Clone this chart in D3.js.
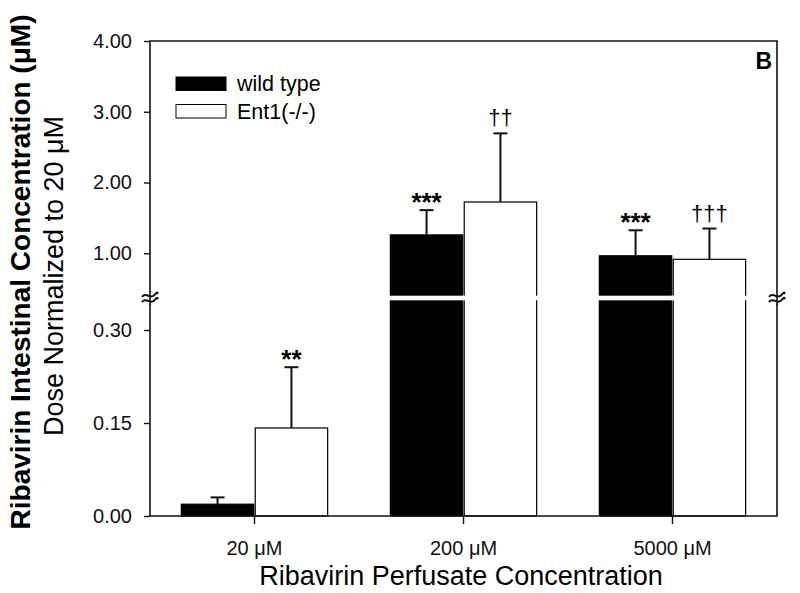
<!DOCTYPE html>
<html>
<head>
<meta charset="utf-8">
<script src="https://cdn.jsdelivr.net/npm/d3@7"></script>
<style>
  html, body { margin: 0; padding: 0; background: #fff; }
  svg { display: block; font-family: Arial, "Liberation Sans", sans-serif; }
</style>
</head>
<body>
<svg id="chart" width="800" height="593"></svg>
<script>
// ---- data ----
const categories = ["20 \u03BCM", "200 \u03BCM", "5000 \u03BCM"];
const seriesNames = ["wild type", "Ent1(-/-)"];
const wildType = [0.019, 1.26, 0.965];
const wildTypeErr = [0.011, 0.35, 0.36];
const ent1 = [0.142, 1.725, 0.915];
const ent1Err = [0.098, 0.97, 0.435];
const wildTypeSig = ["", "***", "***"];
const ent1Sig = ["**", "\u2020\u2020", "\u2020\u2020\u2020"];
const lowerTicks = [0, 0.15, 0.30];
const upperTicks = [1, 2, 3, 4];
const seriesFill = ["#000000", "#ffffff"];

// ---- layout ----
const svg = d3.select("#chart");
const pL = 150, pR = 777, pT = 41, pB = 516, breakY = 298;

const x0 = d3.scaleBand().domain(categories).range([pL, pR]).paddingInner(0.3).paddingOuter(0.15);
const x1 = d3.scaleBand().domain(seriesNames).range([0, x0.bandwidth()]).paddingInner(0.02);
const yLow = d3.scaleLinear().domain([0, 0.30]).range([pB, 330]);
const yHigh = d3.scaleLinear().domain([1, 4]).range([253.3, pT]);
const lowMax = yLow.invert(breakY);
const y = v => v <= lowMax ? yLow(v) : yHigh(v);

const rows = [];
categories.forEach((c, i) => {
  rows.push({cat: c, s: seriesNames[0], v: wildType[i], e: wildTypeErr[i], sig: wildTypeSig[i], fill: seriesFill[0]});
  rows.push({cat: c, s: seriesNames[1], v: ent1[i], e: ent1Err[i], sig: ent1Sig[i], fill: seriesFill[1]});
});

// bars
svg.append("g").selectAll("rect").data(rows).join("rect")
  .attr("x", d => x0(d.cat) + x1(d.s))
  .attr("y", d => y(d.v))
  .attr("width", x1.bandwidth())
  .attr("height", d => pB - y(d.v))
  .attr("fill", d => d.fill)
  .attr("stroke", "#000")
  .attr("stroke-width", 1.2);

// error bars (upper only)
const eb = svg.append("g").attr("stroke", "#111").attr("stroke-width", 2).attr("fill", "none");
rows.forEach(d => {
  const cx = x0(d.cat) + x1(d.s) + x1.bandwidth() / 2;
  const yt = y(d.v + d.e);
  eb.append("line").attr("x1", cx).attr("x2", cx).attr("y1", y(d.v)).attr("y2", yt);
  eb.append("line").attr("x1", cx - 7).attr("x2", cx + 7).attr("y1", yt).attr("y2", yt);
  if (d.sig) {
    const isDagger = d.sig.indexOf("\u2020") >= 0;
    svg.append("text")
      .attr("x", cx).attr("y", isDagger ? yt - 8 : yt + 1)
      .attr("text-anchor", "middle")
      .attr("font-size", isDagger ? 22 : 26)
      .attr("font-weight", isDagger ? "normal" : "bold")
      .text(d.sig);
  }
});

// break band across bars
rows.forEach(d => {
  if (d.v > lowMax) {
    svg.append("rect")
      .attr("x", x0(d.cat) + x1(d.s) - 2)
      .attr("y", breakY - 2.3)
      .attr("width", x1.bandwidth() + 4)
      .attr("height", 4.6)
      .attr("fill", "#fff");
  }
});

// frame
const frame = svg.append("g").attr("stroke", "#111").attr("stroke-width", 1.6).attr("fill", "none");
frame.append("line").attr("x1", pL).attr("x2", pL).attr("y1", pT).attr("y2", pB);
frame.append("line").attr("x1", pR).attr("x2", pR).attr("y1", pT).attr("y2", pB);
frame.append("line").attr("x1", pL - 0.8).attr("x2", pR + 0.8).attr("y1", pT).attr("y2", pT);
frame.append("line").attr("x1", pL - 0.8).attr("x2", pR + 0.8).attr("y1", pB).attr("y2", pB);

// y axes
function styleAxis(g) {
  g.select(".domain").remove();
  g.selectAll(".tick line").attr("stroke", "#111").attr("stroke-width", 1.4);
  g.selectAll(".tick text").attr("font-size", 20).attr("fill", "#111")
    .attr("font-family", 'Arial, "Liberation Sans", sans-serif');
}
svg.append("g").attr("transform", `translate(${pL},0)`)
  .call(d3.axisLeft(yLow).tickValues(lowerTicks).tickFormat(d3.format(".2f")).tickSize(6).tickPadding(12))
  .call(styleAxis);
svg.append("g").attr("transform", `translate(${pL},0)`)
  .call(d3.axisLeft(yHigh).tickValues(upperTicks).tickFormat(d3.format(".2f")).tickSize(6).tickPadding(12))
  .call(styleAxis);

// x axis
svg.append("g").attr("transform", `translate(0,${pB})`)
  .call(d3.axisBottom(x0).tickSize(8).tickPadding(17))
  .call(styleAxis);

// break symbols on axes
function breakSymbol(cx) {
  const g = svg.append("g").attr("fill", "none").attr("stroke", "#111").attr("stroke-width", 2);
  [-2.6, 2.6].forEach(off => {
    const yy = breakY + off;
    g.append("path").attr("d",
      `M${cx - 8},${yy + 1.5} C${cx - 4},${yy - 4} ${cx + 0},${yy + 4} ${cx + 4},${yy}` +
      ` S${cx + 7},${yy - 3} ${cx + 8},${yy - 1.5}`);
  });
}
svg.append("rect").attr("x", pL - 9).attr("y", breakY - 6).attr("width", 18).attr("height", 12).attr("fill", "#fff");
svg.append("rect").attr("x", pR - 9).attr("y", breakY - 6).attr("width", 18).attr("height", 12).attr("fill", "#fff");
svg.append("line").attr("x1", pL).attr("x2", pL).attr("y1", breakY - 7).attr("y2", breakY + 7).attr("stroke", "#111").attr("stroke-width", 1.6);
svg.append("line").attr("x1", pR).attr("x2", pR).attr("y1", breakY - 7).attr("y2", breakY + 7).attr("stroke", "#111").attr("stroke-width", 1.6);
breakSymbol(pL);
breakSymbol(pR);

// axis titles
svg.append("text")
  .attr("transform", "translate(30,272) rotate(-90)")
  .attr("text-anchor", "middle").attr("font-size", 28).attr("font-weight", "bold").attr("fill", "#000")
  .text("Ribavirin Intestinal Concentration (\u03BCM)");
svg.append("text")
  .attr("transform", "translate(63,276) rotate(-90)")
  .attr("text-anchor", "middle").attr("font-size", 27).attr("fill", "#000")
  .text("Dose Normalized to 20 \u03BCM");
svg.append("text")
  .attr("x", 461).attr("y", 585)
  .attr("text-anchor", "middle").attr("font-size", 27).attr("fill", "#000")
  .text("Ribavirin Perfusate Concentration");

// panel letter
svg.append("text").attr("x", 772).attr("y", 69).attr("text-anchor", "end")
  .attr("font-size", 23).attr("font-weight", "bold").text("B");

// legend
const lg = svg.append("g");
seriesNames.forEach((s, i) => {
  const yy = 77 + i * 27.5;
  lg.append("rect").attr("x", 176).attr("y", yy).attr("width", 50).attr("height", 13.5)
    .attr("fill", seriesFill[i]).attr("stroke", "#000").attr("stroke-width", 1);
  lg.append("text").attr("x", 237).attr("y", yy + 14).attr("font-size", 21.5).text(s);
});
</script>
</body>
</html>
